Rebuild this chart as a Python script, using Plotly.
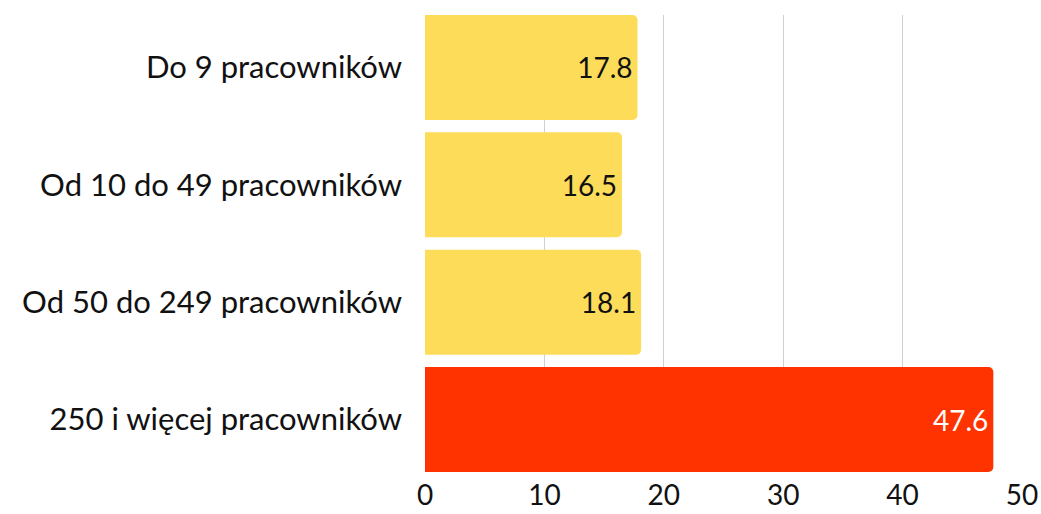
import plotly.graph_objects as go

categories = ["Do 9 pracowników", "Od 10 do 49 pracowników", "Od 50 do 249 pracowników", "250 i więcej pracowników"]
values = [17.8, 16.5, 18.1, 47.6]
colors = ["#FDDC5A", "#FDDC5A", "#FDDC5A", "#FF3300"]
text_colors = ["#111111", "#111111", "#111111", "#FFFFFF"]
tick_vals = [0, 10, 20, 30, 40, 50]

FONT = "Lato"

fig = go.Figure(go.Bar(
    y=categories,
    x=values,
    orientation="h",
    marker=dict(color=colors, line=dict(width=0)),
    text=[f"{v:.1f}" for v in values],
    textposition="inside",
    insidetextanchor="end",
    textfont=dict(size=28, color=text_colors, family=FONT),
    cliponaxis=False,
))

fig.update_layout(
    width=1041, height=514,
    margin=dict(l=425, r=19, t=15, b=42),
    paper_bgcolor="white", plot_bgcolor="white",
    font=dict(family=FONT, size=28, color="#111111"),
    bargap=0.106,
    barcornerradius=5,
    showlegend=False,
    xaxis=dict(range=[0, 50], tickvals=tick_vals, showgrid=True, gridcolor="#D0D0D0",
               gridwidth=1, zeroline=False, showline=False, ticks="", automargin=False,
               ticklabelstandoff=4, tickfont=dict(size=28), fixedrange=True),
    yaxis=dict(categoryorder="array", categoryarray=categories[::-1],
               range=[-0.447, 3.447], automargin=False,
               showgrid=False, ticks="", ticklabelstandoff=22, tickfont=dict(size=31)),
)

fig.write_html("out.html")
